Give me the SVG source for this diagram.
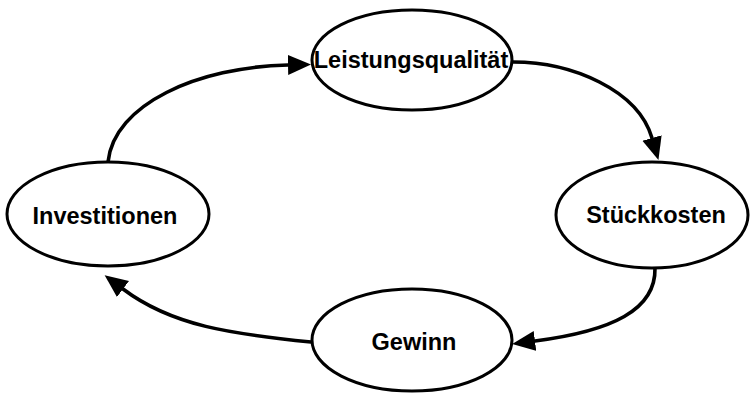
<svg xmlns="http://www.w3.org/2000/svg" width="751" height="394" viewBox="0 0 751 394">
  <style>
    .node ellipse { fill: #fff; stroke: #000; stroke-width: 3; }
    .node text { font-family: "Liberation Sans", Arial, sans-serif; font-weight: bold; font-size: 23.5px; fill: #000; text-anchor: middle; }
    .edge { fill: none; stroke: #000; stroke-width: 3.6; stroke-linecap: round; marker-end: url(#head); }
  </style>
  <defs>
    <marker id="head" markerUnits="userSpaceOnUse" markerWidth="24" markerHeight="21" refX="0" refY="10" orient="auto">
      <path d="M0,0 L23,10 L0,20 z" fill="#000"/>
    </marker>
  </defs>
  <rect width="751" height="394" fill="#fff"/>

  <!-- cycle connectors -->
  <g id="connectors">
    <path class="edge" d="M108,162 C114,104 198,67 288,65"/>
    <path class="edge" d="M513,62 C572,62 638,90 652,138"/>
    <path class="edge" d="M655,268 C656,310 612,331 535,341"/>
    <path class="edge" d="M311,342 C232,334 172,326 123,289"/>
  </g>

  <g id="node-leistungsqualitaet" class="node">
    <ellipse cx="412" cy="60" rx="100" ry="50"/>
    <text x="411" y="68">Leistungsqualität</text>
  </g>
  <g id="node-stueckkosten" class="node">
    <ellipse cx="652" cy="215" rx="96" ry="53"/>
    <text x="656" y="223">Stückkosten</text>
  </g>
  <g id="node-gewinn" class="node">
    <ellipse cx="412" cy="340" rx="100" ry="51"/>
    <text x="414" y="350">Gewinn</text>
  </g>
  <g id="node-investitionen" class="node">
    <ellipse cx="108" cy="214" rx="101" ry="52"/>
    <text x="105" y="224">Investitionen</text>
  </g>
</svg>
